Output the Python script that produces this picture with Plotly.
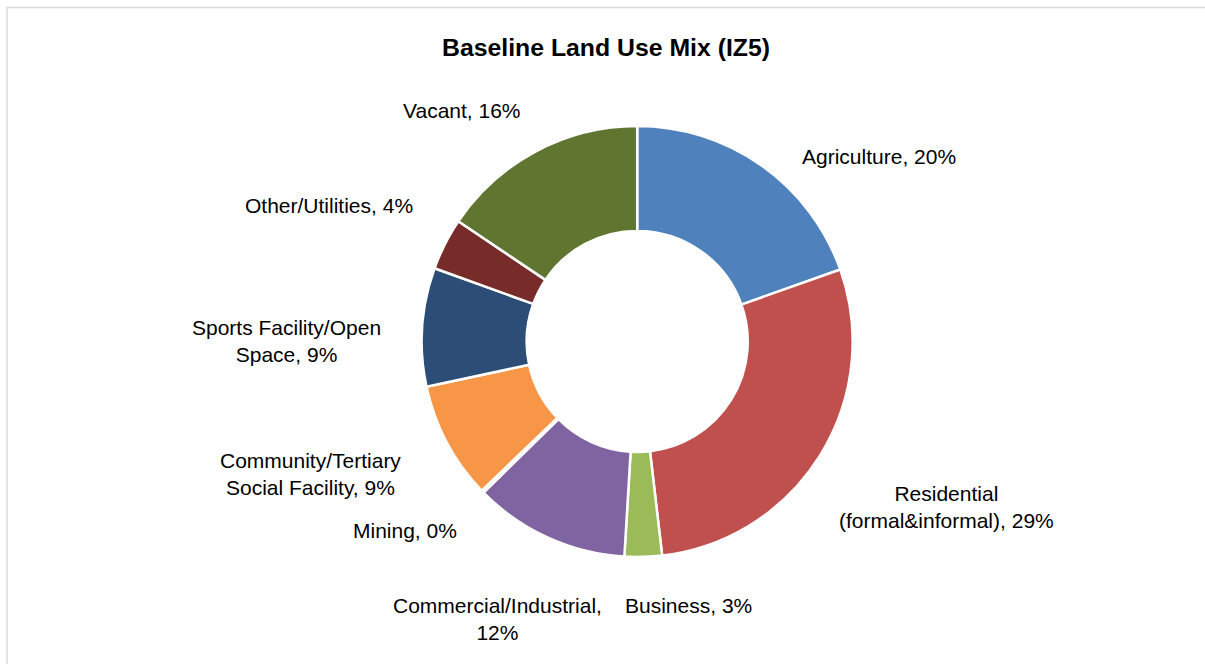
import plotly.graph_objects as go

categories = [
    "Agriculture",
    "Residential (formal&informal)",
    "Business",
    "Commercial/Industrial",
    "Mining",
    "Community/Tertiary Social Facility",
    "Sports Facility/Open Space",
    "Other/Utilities",
    "Vacant",
]
values = [19.6, 28.6, 2.8, 11.7, 0.2, 8.8, 8.9, 3.9, 15.6]
colors = ["#4F81BD", "#C0504D", "#9BBB59", "#8064A2", "#4BACC6",
          "#F79646", "#2C4D75", "#772C2A", "#5F7530"]

# label text wrapping, as in the reference (label, separator before the %)
label_lines = [
    ("Agriculture", ", "),
    ("Residential<br>(formal&informal)", ", "),
    ("Business", ", "),
    ("Commercial/Industrial", ",<br>"),
    ("Mining", ", "),
    ("Community/Tertiary<br>Social Facility", ", "),
    ("Sports Facility/Open<br>Space", ", "),
    ("Other/Utilities", ", "),
    ("Vacant", ", "),
]
# label centres in page pixels (layout only)
label_pos = [
    (879, 156.5), (946.5, 507.5), (688.5, 605), (498, 618.5), (405, 530),
    (310.5, 474), (286.7, 341), (329, 205.5), (462, 110),
]

W, H = 1205, 664
FONT = "Liberation Sans, Arial, sans-serif"

fig = go.Figure(go.Pie(
    labels=categories,
    values=values,
    sort=False,
    direction="clockwise",
    rotation=0,
    hole=0.513,
    marker=dict(colors=colors, line=dict(color="white", width=2.5)),
    textinfo="none",
    hoverinfo="label+percent",
    showlegend=False,
    domain=dict(x=[421.7 / W, 852.7 / W], y=[1 - 557 / H, 1 - 126 / H]),
))

total = sum(values)
annotations = []
for (txt, sep), (px, py), v in zip(label_lines, label_pos, values):
    pct = int(round(v / total * 100))
    annotations.append(dict(
        text=f"{txt}{sep}{pct}%",
        x=px / W, y=1 - py / H, xref="paper", yref="paper",
        xanchor="center", yanchor="middle", align="center",
        showarrow=False,
        font=dict(family=FONT, size=21, color="#000000"),
    ))

fig.update_layout(
    width=W, height=H,
    margin=dict(l=0, r=0, t=0, b=0),
    paper_bgcolor="white",
    plot_bgcolor="white",
    title=dict(
        text="<b>Baseline Land Use Mix (IZ5)</b>",
        x=606 / W, xanchor="center",
        y=1 - 47.5 / H, yanchor="middle", yref="container",
        font=dict(family=FONT, size=24.8, color="#000000"),
    ),
    annotations=annotations,
    shapes=[dict(
        type="rect", xref="paper", yref="paper",
        x0=7 / W, x1=1.01, y0=-0.01, y1=1 - 7.5 / H,
        line=dict(color="#D9D9D9", width=1.5),
        fillcolor="rgba(0,0,0,0)",
    )],
)

fig.write_html(
    "out.html",
    config={"displayModeBar": False},
    post_script="document.body.style.margin='0px';document.body.style.overflow='hidden';",
)
